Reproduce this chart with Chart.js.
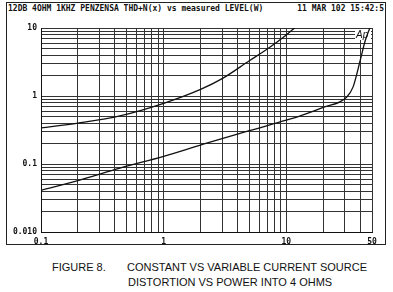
<!DOCTYPE html>
<html><head><meta charset="utf-8">
<script src="https://cdn.jsdelivr.net/npm/chart.js@4/dist/chart.umd.min.js"></script>
<style>
html,body{margin:0;padding:0;background:#fff;}
#wrap{position:relative;width:393px;height:292px;overflow:hidden;background:#fff;}
#frame{position:absolute;left:6px;top:2px;width:378px;height:241px;border:1px solid #222;}
.hdr{position:absolute;top:4px;font:bold 8px "DejaVu Sans Mono",monospace;color:#111;white-space:pre;}
.cap{position:absolute;font:11px "Liberation Sans",Arial,sans-serif;color:#111;white-space:pre;line-height:13px;}
canvas{position:absolute;left:0;top:0;}
</style></head>
<body><div id="wrap">
<div id="frame"></div>
<div class="hdr" style="left:8px">12DB 4OHM 1KHZ PENZENSA THD+N(x) vs measured LEVEL(W)</div>
<div class="hdr" style="right:9px">11 MAR 102 15:42:5</div>
<div class="cap" style="left:52px;top:261px">FIGURE 8.</div>
<div class="cap" style="left:127px;top:261px">CONSTANT VS VARIABLE CURRENT SOURCE</div>
<div class="cap" style="left:128px;top:276px">DISTORTION VS POWER INTO 4 OHMS</div>
<canvas id="c" width="393" height="292"></canvas>
</div>
<script>
// Upper curve: power in W, THD+N in %
const upperPower = [0.1, 0.2, 0.44, 1, 2, 3, 5, 7, 10, 11.7];
const upperThd   = [0.34, 0.40, 0.51, 0.78, 1.25, 1.8, 3.3, 4.9, 7.9, 10];
// Lower curve
const lowerPower = [0.1, 0.2, 0.44, 1, 2, 5, 10, 13, 20, 31, 35, 40, 44, 48];
const lowerThd   = [0.041, 0.057, 0.087, 0.13, 0.19, 0.31, 0.44, 0.51, 0.68, 0.96, 1.35, 3.3, 6.5, 10];
// Grid / tick values
const xGrid = [0.1,0.2,0.3,0.4,0.5,0.6,0.7,0.8,0.9,1,2,3,4,5,6,7,8,9,10,20,30,40,50];
const yGrid = [0.01,0.02,0.03,0.04,0.05,0.06,0.07,0.08,0.09,0.1,0.2,0.3,0.4,0.5,0.6,0.7,0.8,0.9,1,2,3,4,5,6,7,8,9,10];
const xLabels = {0.1:'0.1', 1:'1', 10:'10', 50:'50'};
const yLabels = {0.01:'0.010', 0.1:'0.1', 1:'1', 10:'10'};

const toXY = (xs, ys) => xs.map((x, i) => ({x, y: ys[i]}));
const lblFont = {family: '"DejaVu Sans Mono", monospace', size: 8, weight: 'bold'};

const apLogo = {
  id: 'apLogo',
  beforeDatasetsDraw(chart) {
    const {ctx, chartArea: a} = chart;
    ctx.save();
    ctx.fillStyle = '#fff';
    ctx.fillRect(a.right - 17, a.top + 1, 16, 11);
    ctx.fillStyle = '#111';
    ctx.font = 'italic 10px "Liberation Sans", Arial';
    ctx.textBaseline = 'top';
    ctx.fillText('Ap', a.right - 16, a.top + 2);
    ctx.restore();
  }
};

new Chart(document.getElementById('c'), {
  type: 'scatter',
  data: {
    datasets: [
      {data: toXY(upperPower, upperThd), showLine: true, borderColor: '#111', borderWidth: 1.3, pointRadius: 0, cubicInterpolationMode: 'monotone'},
      {data: toXY(lowerPower, lowerThd), showLine: true, borderColor: '#111', borderWidth: 1.3, pointRadius: 0, cubicInterpolationMode: 'monotone'}
    ]
  },
  options: {
    responsive: false,
    animation: false,
    devicePixelRatio: 1,
    layout: {padding: {left: 0, right: 21, top: 28, bottom: 0}},
    plugins: {legend: {display: false}, tooltip: {enabled: false}},
    scales: {
      x: {
        type: 'logarithmic', min: 0.1, max: 50,
        afterBuildTicks: s => { s.ticks = xGrid.map(v => ({value: v})); },
        afterFit: s => { s.height = 60; },
        grid: {color: '#333', lineWidth: 1, drawTicks: false},
        border: {color: '#111', width: 1},
        ticks: {autoSkip: false, maxRotation: 0, padding: 5, color: '#111', font: lblFont,
                callback: v => xLabels[v] || ''}
      },
      y: {
        type: 'logarithmic', min: 0.01, max: 10,
        afterBuildTicks: s => { s.ticks = yGrid.map(v => ({value: v})); },
        afterFit: s => { s.width = 41; },
        grid: {color: '#333', lineWidth: 1, drawTicks: false},
        border: {color: '#111', width: 1},
        ticks: {autoSkip: false, padding: 4, color: '#111', font: lblFont,
                callback: v => yLabels[v] || ''}
      }
    }
  },
  plugins: [apLogo]
});
</script>
</body></html>
